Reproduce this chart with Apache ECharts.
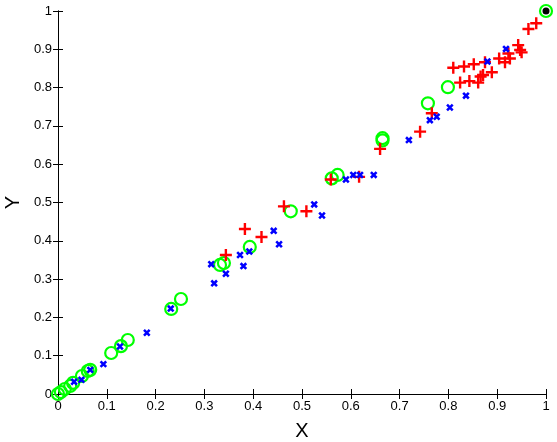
<!DOCTYPE html>
<html>
<head>
<meta charset="utf-8">
<script src="https://cdn.jsdelivr.net/npm/echarts@6/dist/echarts.min.js"></script>
<style>
  html, body { margin: 0; padding: 0; background: #fff; }
  #chart { width: 557px; height: 442px; }
</style>
</head>
<body>
<div id="chart"></div>
<script>
// green circles
const circleX = [0, 0.006, 0.014, 0.025, 0.031, 0.049, 0.061, 0.066, 0.109, 0.129, 0.143, 0.232, 0.252,
  0.332, 0.340, 0.393, 0.477, 0.561, 0.573, 0.665, 0.665, 0.758, 0.799, 1]
const circleY = [0, 0.005, 0.013, 0.021, 0.029, 0.047, 0.060, 0.063, 0.107, 0.125, 0.141, 0.222, 0.248,
  0.337, 0.342, 0.384, 0.477, 0.563, 0.572, 0.662, 0.668, 0.759, 0.801, 1]
// blue crosses
const crossX = [0.033, 0.048, 0.066, 0.093, 0.127, 0.182, 0.231, 0.320, 0.314, 0.344, 0.373, 0.380, 0.392,
  0.442, 0.453, 0.525, 0.541, 0.590, 0.605, 0.619, 0.647, 0.719, 0.762, 0.776, 0.803, 0.836, 0.880, 0.918]
const crossY = [0.032, 0.037, 0.063, 0.078, 0.124, 0.160, 0.223, 0.289, 0.339, 0.314, 0.363, 0.334, 0.372,
  0.426, 0.391, 0.495, 0.466, 0.560, 0.572, 0.572, 0.572, 0.663, 0.715, 0.724, 0.748, 0.779, 0.868, 0.901]
// red plus
const plusX = [0.344, 0.383, 0.417, 0.463, 0.509, 0.559, 0.617, 0.660, 0.742, 0.766, 0.810, 0.832, 0.852,
  0.875, 0.824, 0.843, 0.861, 0.866, 0.871, 0.889, 0.904, 0.916, 0.926, 0.923, 0.943, 0.947, 0.950, 0.964, 0.980]
const plusY = [0.363, 0.431, 0.410, 0.490, 0.477, 0.560, 0.567, 0.640, 0.685, 0.733, 0.852, 0.855, 0.861,
  0.866, 0.813, 0.817, 0.813, 0.829, 0.833, 0.840, 0.876, 0.866, 0.876, 0.889, 0.911, 0.898, 0.892, 0.953, 0.968]
// black dot
const dotX = [1]
const dotY = [1]

const zip = (xs, ys) => xs.map((x, i) => [x, ys[i]])

const plusPath = 'path://M4,0h2v10h-2z M0,4h10v2h-10z'
const crossPath = 'path://M3.4,0h3.2v10h-3.2z M0,3.4h10v3.2h-10z'
const axisFont = { color: '#000', fontSize: 13, fontFamily: 'Liberation Sans' }

const valueAxis = (extra) => Object.assign({
  type: 'value',
  min: 0,
  max: 1,
  interval: 0.1,
  axisLine: { show: true, lineStyle: { color: '#000', width: 1 } },
  axisTick: { show: true, inside: true, length: 5, lineStyle: { color: '#000' } },
  splitLine: { show: false },
  axisLabel: Object.assign({ margin: 6, formatter: v => String(Math.round(v * 10) / 10) }, axisFont)
}, extra)

const chart = echarts.init(document.getElementById('chart'))
chart.setOption({
  animation: false,
  grid: { left: 58, right: 11, top: 11, bottom: 48, containLabel: false, outerBoundsMode: 'none' },
  xAxis: [
    valueAxis({
      position: 'bottom',
      name: 'X',
      nameLocation: 'middle',
      nameGap: 27,
      nameTextStyle: { color: '#000', fontSize: 20, fontFamily: 'Liberation Sans' }
    }),
    valueAxis({ position: 'top', axisLabel: { show: false } })
  ],
  yAxis: [
    valueAxis({
      position: 'left',
      name: 'Y',
      nameLocation: 'middle',
      nameGap: 35,
      nameRotate: 90,
      nameTextStyle: { color: '#000', fontSize: 20, fontFamily: 'Liberation Sans' }
    }),
    valueAxis({ position: 'right', axisLabel: { show: false } })
  ],
  series: [
    {
      type: 'scatter',
      data: zip(circleX, circleY),
      symbol: 'circle',
      symbolSize: 12,
      itemStyle: { color: 'rgba(0,0,0,0)', borderColor: '#00ff00', borderWidth: 2.2, opacity: 1 },
      z: 2
    },
    {
      type: 'scatter',
      data: zip(plusX, plusY),
      symbol: plusPath,
      symbolSize: 12,
      symbolKeepAspect: true,
      itemStyle: { color: '#ff0000', opacity: 1 },
      z: 3
    },
    {
      type: 'scatter',
      data: zip(crossX, crossY),
      symbol: crossPath,
      symbolSize: 8,
      symbolRotate: 45,
      symbolKeepAspect: true,
      itemStyle: { color: '#0000ff', opacity: 1 },
      z: 4
    },
    {
      type: 'scatter',
      data: zip(dotX, dotY),
      symbol: 'circle',
      symbolSize: 7,
      itemStyle: { color: '#000', opacity: 1 },
      z: 5
    }
  ]
})
</script>
</body>
</html>
